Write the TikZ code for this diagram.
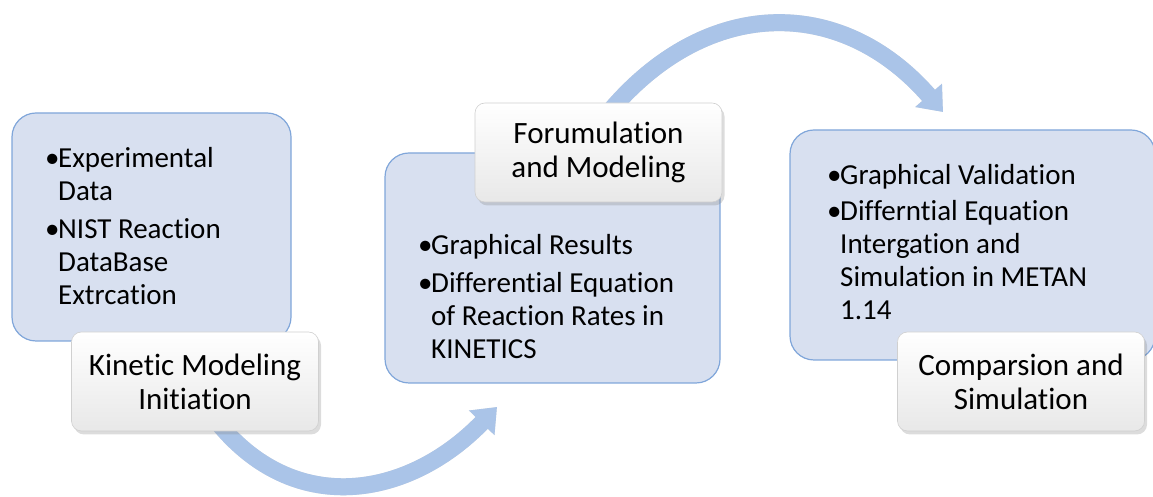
\documentclass[tikz,border=0pt]{standalone}
\usepackage{fontspec}
\setmainfont{Carlito}[Ligatures=NoCommon]
\usetikzlibrary{arrows.meta,shadows}

\definecolor{boxfill}{RGB}{216,224,240}
\definecolor{boxline}{RGB}{128,166,218}
\definecolor{arrowblue}{RGB}{170,196,232}
\definecolor{labelline}{RGB}{208,208,208}

% bullet cell of a point list
\newcommand\bul{\makebox[13pt][l]{\textbullet}}

\tikzset{
  stage/.style={draw=boxline, line width=1.2pt, fill=boxfill,
    rounded corners=24pt, inner sep=0pt},
  caption/.style={draw=labelline, line width=0.6pt, rounded corners=10pt,
    top color=white, bottom color=black!9,
    minimum width=247pt, minimum height=99pt, inner sep=0pt,
    align=center, font=\fontsize{31}{34}\selectfont,
    drop shadow={shadow xshift=2.5pt, shadow yshift=-3.5pt, opacity=0.28}},
  points/.style={anchor=base west, inner sep=0pt,
    font=\fontsize{29}{33}\selectfont},
  flowline/.style={line width=17pt, -{Triangle[length=22pt,width=34pt]}},
  flow/.style={flowline, arrowblue},
  flowshadow/.style={flowline, black, opacity=0.12, shift={(2pt,-3pt)}}
}

\begin{document}
\begin{tikzpicture}[x=1pt,y=1pt]
\useasboundingbox (0,0) rectangle (1153,497);

% ends of the two curved arrows (their tails sit under the captions)
\coordinate (a1s) at (215,78);
\coordinate (a1e) at (497,90);
\coordinate (a2s) at (605,380);
\coordinate (a2e) at (943,385);

\draw[flowshadow] (a1s) to[out=-52,in=226,looseness=1.15] (a1e);
\draw[flowshadow] (a2s) to[out=51,in=131,looseness=1.18] (a2e);
\draw[flow] (a1s) to[out=-52,in=226,looseness=1.15] (a1e);
\draw[flow] (a2s) to[out=51,in=131,looseness=1.18] (a2e);

% blue stage boxes
\node[stage, minimum width=279pt, minimum height=228pt] (b1) at (151.5,270) {};
\node[stage, minimum width=335pt, minimum height=230pt] (b2) at (552.5,229) {};
\node[stage, minimum width=365pt, minimum height=230pt] (b3) at (972.5,252) {};

% bullet texts
\node[points] (t1) at (45,329) {%
  \begin{tabular}[t]{@{}l@{}l@{}}
  \bul & Experimental\\
       & Data\\[4.5pt]
  \bul & NIST Reaction\\
       & DataBase\\
       & Extrcation
  \end{tabular}};
\node[points] (t2) at (418,242) {%
  \begin{tabular}[t]{@{}l@{}l@{}}
  \bul & Graphical Results\\[4.5pt]
  \bul & Differential Equation\\
       & of Reaction Rates in\\
       & KINETICS
  \end{tabular}};
\node[points] (t3) at (827,312) {%
  \begin{tabular}[t]{@{}l@{}l@{}}
  \bul & Graphical Validation\\[2.5pt]
  \bul & Differntial Equation\\
       & Intergation and\\
       & Simulation in METAN\\
       & 1.14
  \end{tabular}};

% white captions
\node[caption] (c1) at (195,115.5) {Kinetic Modeling\\Initiation};
\node[caption] (c2) at (598.5,344.5) {Forumulation\\and Modeling};
\node[caption] (c3) at (1021,115.5) {Comparsion and\\Simulation};
\end{tikzpicture}
\end{document}
